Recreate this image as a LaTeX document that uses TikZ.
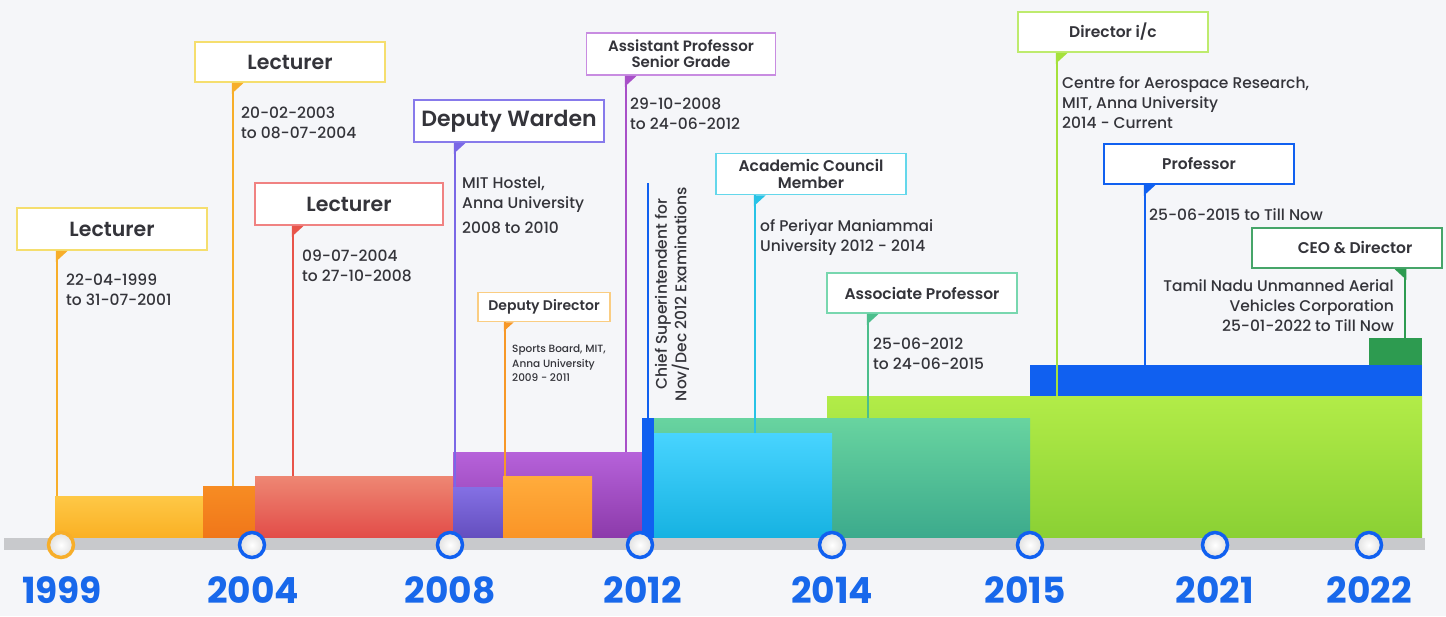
\documentclass[tikz,border=0pt]{standalone}
\usepackage{fontspec}
\setmainfont{Poppins}[UprightFont={* Medium},BoldFont={* SemiBold}]
\newfontfamily\yearfont{Poppins}[UprightFont={* Bold}]
\usetikzlibrary{calc}
\definecolor{bg}{RGB}{245,246,249}
\definecolor{txt}{RGB}{52,52,58}
\definecolor{yr}{RGB}{24,104,235}
\definecolor{axis}{RGB}{200,201,204}
\definecolor{ylw}{RGB}{247,174,42}
\definecolor{ylwbox}{RGB}{245,222,110}
\definecolor{org}{RGB}{244,130,30}
\definecolor{red1}{RGB}{232,84,74}
\definecolor{redbox}{RGB}{240,130,130}
\definecolor{pur}{RGB}{168,80,200}
\definecolor{purbox}{RGB}{200,140,225}
\definecolor{vio}{RGB}{122,104,230}
\definecolor{viobox}{RGB}{135,122,235}
\definecolor{ddo}{RGB}{247,152,40}
\definecolor{ddobox}{RGB}{250,205,130}
\definecolor{blu}{RGB}{16,96,240}
\definecolor{tea}{RGB}{76,190,140}
\definecolor{teabox}{RGB}{120,215,175}
\definecolor{cya}{RGB}{40,195,230}
\definecolor{cyabox}{RGB}{100,215,235}
\definecolor{lim}{RGB}{165,225,60}
\definecolor{limbox}{RGB}{190,235,110}
\definecolor{grn}{RGB}{45,155,80}
\definecolor{grnbox}{RGB}{70,165,105}
\tikzset{
  lbl/.style={draw=#1, line width=1.5pt, fill=white, minimum width=190pt, minimum height=41pt,
    inner sep=0pt, align=center, text=txt, font=\fontsize{15.5}{17}\selectfont},
  big/.style={font=\bfseries\fontsize{20.5}{24}\selectfont},
  desc/.style={anchor=north west, align=left, inner sep=0pt, text=txt, font=\fontsize{15.5}{20}\selectfont},
  stemline/.style={draw=#1, line width=2.5pt},
  yearlbl/.style={anchor=base, text=yr, inner sep=0pt, font=\yearfont\fontsize{36}{40}\selectfont},
  marker/.style={draw=#1, line width=3.5pt, inner color=white, outer color=black!12}
}
\begin{document}
\begin{tikzpicture}[x=1pt,y=-1pt]
\useasboundingbox (0,0) rectangle (1446,616);
\fill[bg] (0,0) rectangle (1446,616);

% ---------- bars ----------
\shade[top color={rgb,255:red,254;green,200;blue,70}, bottom color={rgb,255:red,250;green,176;blue,36}] (55,496) rectangle (205,538);
\shade[top color={rgb,255:red,247;green,140;blue,35}, bottom color={rgb,255:red,240;green,118;blue,25}] (203,486) rectangle (255,538);
\shade[top color={rgb,255:red,238;green,135;blue,115}, bottom color={rgb,255:red,226;green,76;blue,72}] (255,476) rectangle (453,538);
\shade[top color={rgb,255:red,182;green,98;blue,218}, bottom color={rgb,255:red,140;green,58;blue,170}] (453,452) rectangle (642,538);
\shade[top color={rgb,255:red,132;green,112;blue,228}, bottom color={rgb,255:red,100;green,78;blue,190}] (453,487) rectangle (503,538);
\shade[top color={rgb,255:red,255;green,172;blue,60}, bottom color={rgb,255:red,250;green,148;blue,38}] (503,476) rectangle (592,538);
\shade[top color={rgb,255:red,178;green,236;blue,72}, bottom color={rgb,255:red,138;green,208;blue,52}] (827,396) rectangle (1422,538);
\fill[blu] (1030,365) rectangle (1422,396);
\fill[grn] (1369,338) rectangle (1422,365);
\shade[top color={rgb,255:red,104;green,212;blue,160}, bottom color={rgb,255:red,60;green,170;blue,140}] (654,418) rectangle (1030,538);
\shade[top color={rgb,255:red,72;green,212;blue,255}, bottom color={rgb,255:red,22;green,178;blue,225}] (654,433) rectangle (832,538);
\fill[blu] (642,418) rectangle (654,538);

% ---------- axis ----------
\fill[axis] (4,538) rectangle (1425,550);

% ---------- label boxes ----------
\node[lbl=ylwbox, big, minimum height=42pt] (L1) at (112,229) {Lecturer};
\node[lbl=ylwbox, big, minimum height=40pt] (L2) at (290,62) {Lecturer};
\node[lbl=redbox, big, minimum width=188pt, minimum height=42pt] (L3) at (349,204) {Lecturer};
\node[lbl=viobox, font=\bfseries\fontsize{22}{26}\selectfont, minimum height=42pt] (DW) at (509,121) {Deputy Warden};
\node[lbl=ddobox, font=\bfseries\fontsize{14}{17}\selectfont, minimum width=132pt, minimum height=29pt] (DD) at (544,307) {Deputy Director};
\node[lbl=purbox, font=\bfseries\fontsize{15}{16}\selectfont, minimum width=189pt, minimum height=42pt] (AP) at (681,54) {Assistant Professor\\Senior Grade};
\node[lbl=cyabox, font=\bfseries\fontsize{15.5}{16.5}\selectfont] (AC) at (811,174) {Academic Council\\Member};
\node[lbl=teabox, font=\bfseries\fontsize{15.5}{17}\selectfont, minimum height=40pt] (AsP) at (922,293) {Associate Professor};
\node[lbl=limbox, font=\bfseries\fontsize{15.5}{17}\selectfont, minimum height=40pt] (DIC) at (1113,32) {Director i/c};
\node[lbl=blu, font=\bfseries\fontsize{15.5}{17}\selectfont, minimum height=40pt] (PR) at (1199,164) {Professor};
\node[lbl=grnbox, font=\bfseries\fontsize{15.5}{17}\selectfont, minimum height=40pt] (CEO) at (1347,248) {\hspace*{16pt}CEO \& Director};

% ---------- stem end points ----------
\coordinate (s1) at (57,496);
\coordinate (s2) at (233,486);
\coordinate (s3) at (293,476);
\coordinate (s4) at (455,487);
\coordinate (s5) at (505,476);
\coordinate (s6) at (626,452);
\coordinate (s7) at (648,418);
\coordinate (s7t) at (648,183);
\coordinate (s8) at (755,433);
\coordinate (s9) at (868,418);
\coordinate (s10) at (1057,396);
\coordinate (s11) at (1145,365);
\coordinate (s12) at (1405,338);

\draw[stemline=ylw] (L1.south west -| s1) -- (s1);
\draw[stemline=ylw] (L2.south west -| s2) -- (s2);
\draw[stemline=red1] (L3.south west -| s3) -- (s3);
\draw[stemline=vio] (DW.south west -| s4) -- (s4);
\draw[stemline=ddo] (DD.south west -| s5) -- (s5);
\draw[stemline=pur] (AP.south west -| s6) -- (s6);
\draw[stemline=blu] (s7t) -- (s7);
\draw[stemline=cya] (AC.south west -| s8) -- (s8);
\draw[stemline=tea] (AsP.south west -| s9) -- (s9);
\draw[stemline=lim] (DIC.south west -| s10) -- (s10);
\draw[stemline=blu] (PR.south west -| s11) -- (s11);
\draw[stemline=grn] (CEO.south east -| s12) -- (s12);

% ---------- tabs ----------
\fill[ylw] ($(L1.south west -| s1)+(-1.25,0)$) -- ++(12,0) -- ++(-12,11) -- cycle;
\fill[ylw] ($(L2.south west -| s2)+(-1.25,0)$) -- ++(12,0) -- ++(-12,11) -- cycle;
\fill[red1] ($(L3.south west -| s3)+(-1.25,0)$) -- ++(12,0) -- ++(-12,11) -- cycle;
\fill[vio] ($(DW.south west -| s4)+(-1.25,0)$) -- ++(12,0) -- ++(-12,11) -- cycle;
\fill[ddo] ($(DD.south west -| s5)+(-1.25,0)$) -- ++(10,0) -- ++(-10,9) -- cycle;
\fill[pur] ($(AP.south west -| s6)+(-1.25,0)$) -- ++(12,0) -- ++(-12,11) -- cycle;
\fill[cya] ($(AC.south west -| s8)+(-1.25,0)$) -- ++(12,0) -- ++(-12,11) -- cycle;
\fill[tea] ($(AsP.south west -| s9)+(-1.25,0)$) -- ++(12,0) -- ++(-12,11) -- cycle;
\fill[lim] ($(DIC.south west -| s10)+(-1.25,0)$) -- ++(12,0) -- ++(-12,11) -- cycle;
\fill[blu] ($(PR.south west -| s11)+(-1.25,0)$) -- ++(12,0) -- ++(-12,11) -- cycle;
\fill[grn] ($(CEO.south east -| s12)+(1.25,0)$) -- ++(-12,0) -- ++(12,11) -- cycle;

% ---------- descriptions ----------
\node[desc] (d1) at (66,274) {22-04-1999\\to 31-07-2001};
\node[desc] (d2) at (241,107) {20-02-2003\\to 08-07-2004};
\node[desc] (d3) at (302,250) {09-07-2004\\to 27-10-2008};
\node[desc] (d4) at (462,177) {MIT Hostel,\\Anna University};
\node[desc] (d4b) at (462,222) {2008 to 2010};
\node[desc, font=\fontsize{10.5}{14.5}\selectfont] (d5) at (512,345) {Sports Board, MIT,\\Anna University\\2009 - 2011};
\node[desc] (d6) at (630,98) {29-10-2008\\to 24-06-2012};
\node[anchor=center, rotate=90, align=center, inner sep=0pt, text=txt, font=\fontsize{15.5}{17}\selectfont] (d7) at (672,294) {Chief Superintendent for\\Nov/Dec 2012 Examinations};
\node[desc] (d8) at (760,219) {of Periyar Maniammai\\University 2012 - 2014};
\node[desc] (d9) at (873,338) {25-06-2012\\to 24-06-2015};
\node[desc] (d10) at (1062,76) {Centre for Aerospace Research,\\MIT, Anna University\\2014 - Current};
\node[desc] (d11) at (1149,208) {25-06-2015 to Till Now};
\node[desc, anchor=north east, align=right] (d12) at (1394,279) {Tamil Nadu Unmanned Aerial\\Vehicles Corporation\\25-01-2022 to Till Now};

% ---------- markers ----------
\shade[marker=ylw] (61,545) circle (12.5);
\foreach \x/\n in {252/m2,450/m3,640/m4,832/m5,1030/m6,1215/m7,1369/m8}
  \shade[marker=blu] (\x,545) circle (12.5);

% ---------- years ----------
\node[yearlbl] (y1) at (62,603) {1999};
\node[yearlbl] (y2) at (253,603) {2004};
\node[yearlbl] (y3) at (450,603) {2008};
\node[yearlbl] (y4) at (643,603) {2012};
\node[yearlbl] (y5) at (832,603) {2014};
\node[yearlbl] (y6) at (1025,603) {2015};
\node[yearlbl] (y7) at (1215,603) {2021};
\node[yearlbl] (y8) at (1369,603) {2022};
\end{tikzpicture}
\end{document}
